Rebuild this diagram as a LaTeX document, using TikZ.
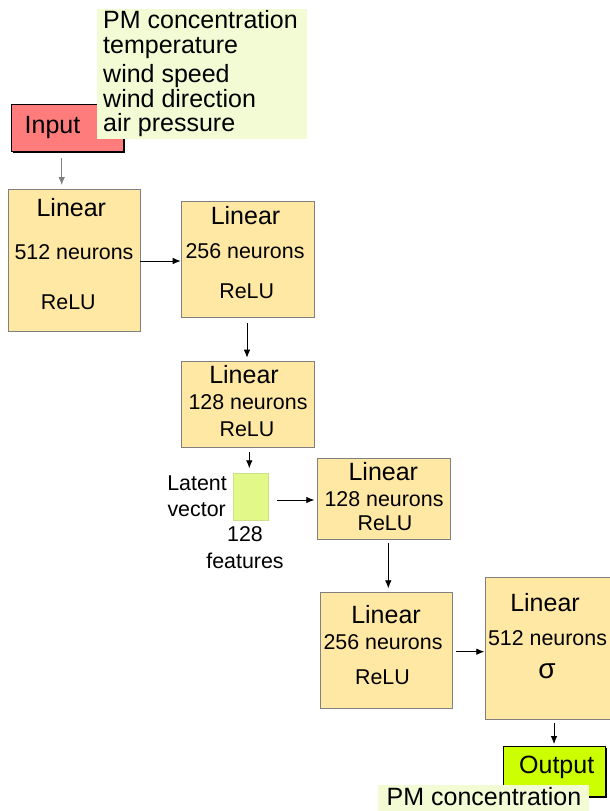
\documentclass[tikz,border=0pt]{standalone}
\usepackage{fontspec}
\setmainfont{Liberation Sans}
\usetikzlibrary{arrows.meta,shadows}

\definecolor{layerfill}{HTML}{FFE8A3}
\definecolor{layerline}{HTML}{808080}
\definecolor{featfill}{HTML}{F3FBD5}
\definecolor{infill}{HTML}{FF7C7C}
\definecolor{latfill}{HTML}{E2F98A}
\definecolor{outfill}{HTML}{CCFF00}

\tikzset{
  layer/.style={draw=layerline, fill=layerfill, line width=0.8pt, anchor=north west, inner sep=0pt, outer sep=0pt},
  iobox/.style={draw=black, line width=1.3pt, anchor=north west, inner sep=0pt, outer sep=0pt,
    drop shadow={shadow xshift=1.5pt, shadow yshift=-1.5pt, fill=black, opacity=1}},
  note/.style={fill=featfill, anchor=north west, inner sep=0pt, outer sep=0pt},
  big/.style={font=\fontsize{25}{29}\selectfont, inner sep=0pt},
  small/.style={font=\fontsize{21.4}{25}\selectfont, inner sep=0pt},
  arr/.style={line width=0.8pt, -{Latex[length=8pt,width=6.5pt]}},
}

\begin{document}
\begin{tikzpicture}[x=1pt,y=-1pt]
  \useasboundingbox (0,0) rectangle (610,811);

  % input and its features
  \node[iobox, fill=infill, minimum width=111.6pt, minimum height=47.4pt] (inbox) at (11.7,104.3) {};
  \node[big, anchor=base] (intxt) at (52.5,133.3) {Input};
  \node[note, minimum width=210.6pt, minimum height=130pt] (feats) at (96.7,9.3) {};
  \node[big, anchor=base west] (f1) at (103,28.3) {PM concentration};
  \node[big, anchor=base west] (f2) at (103,53.3) {temperature};
  \node[big, anchor=base west] (f3) at (103,82.7) {wind speed};
  \node[big, anchor=base west] (f4) at (103,107.7) {wind direction};
  \node[big, anchor=base west] (f5) at (103,131.7) {air pressure};

  % encoder
  \node[layer, minimum width=131.7pt, minimum height=142.7pt] (lin1) at (8.3,189) {};
  \node[big, anchor=base] (lin1a) at (71.3,216) {Linear};
  \node[small, anchor=base] (lin1b) at (74,259) {512 neurons};
  \node[small, anchor=base] (lin1c) at (68.3,309) {ReLU};

  \node[layer, minimum width=132.3pt, minimum height=115.6pt] (lin2) at (181.7,201.7) {};
  \node[big, anchor=base] (lin2a) at (245.5,224.3) {Linear};
  \node[small, anchor=base] (lin2b) at (245,258.3) {256 neurons};
  \node[small, anchor=base] (lin2c) at (246.7,298.3) {ReLU};

  \node[layer, minimum width=132.3pt, minimum height=85.6pt] (lin3) at (181.7,361.7) {};
  \node[big, anchor=base] (lin3a) at (244,383.3) {Linear};
  \node[small, anchor=base] (lin3b) at (248,409.3) {128 neurons};
  \node[small, anchor=base] (lin3c) at (247,436) {ReLU};

  % latent vector
  \node[draw=latfill!80!gray, fill=latfill, anchor=north west, inner sep=0pt, outer sep=0pt,
    minimum width=35pt, minimum height=46.7pt] (latent) at (233.3,473.3) {};
  \node[small, anchor=base east] (lat1) at (227,490.7) {Latent};
  \node[small, anchor=base east] (lat2) at (226,516.7) {vector};
  \node[small, anchor=base] (lat3) at (245,541.7) {128};
  \node[small, anchor=base] (lat4) at (245,568.3) {features};

  % decoder
  \node[layer, minimum width=132.7pt, minimum height=81pt] (lin4) at (317.3,458.3) {};
  \node[big, anchor=base] (lin4a) at (383.3,480) {Linear};
  \node[small, anchor=base] (lin4b) at (384,506) {128 neurons};
  \node[small, anchor=base] (lin4c) at (385,530) {ReLU};

  \node[layer, minimum width=132.7pt, minimum height=116pt] (lin5) at (320,592.3) {};
  \node[big, anchor=base] (lin5a) at (386,623.3) {Linear};
  \node[small, anchor=base] (lin5b) at (383,649.3) {256 neurons};
  \node[small, anchor=base] (lin5c) at (382.5,684.3) {ReLU};

  \node[layer, minimum width=130pt, minimum height=141.7pt] (lin6) at (485,577.3) {};
  \node[big, anchor=base] (lin6a) at (545,611.7) {Linear};
  \node[small, anchor=base] (lin6b) at (547.5,645) {512 neurons};
  \node[font=\fontsize{28}{32}\selectfont, inner sep=0pt, anchor=base] (lin6c) at (547,678.3) {σ};

  % output
  \node[iobox, fill=outfill, minimum width=102pt, minimum height=50pt] (outbox) at (503.3,746.7) {};
  \node[big, anchor=base] (outtxt) at (556.7,773.3) {Output};
  \node[note, minimum width=211pt, minimum height=27pt] (pmbox) at (378.3,785) {};
  \node[big, anchor=base] (pmtxt) at (484,805) {PM concentration};

  % connectors
  \draw[arr, draw=gray] ([xshift=50pt,yshift=-6pt]inbox.south west) -- ([xshift=53.4pt,yshift=4pt]lin1.north west);
  \draw[arr, shorten >=1pt] (lin1.east |- 0,261) -- (lin2.west |- 0,261);
  \draw[arr, shorten <=6pt, shorten >=4pt] (lin2.south -| 247,0) -- (lin3.north -| 247,0);
  \draw[arr, shorten <=5pt, shorten >=5pt] (lin3.south -| 249.3,0) -- (latent.north -| 249.3,0);
  \draw[arr, shorten <=9pt, shorten >=3pt] (latent.east |- 0,500) -- (lin4.west |- 0,500);
  \draw[arr, shorten <=3.5pt, shorten >=4pt] (lin4.south -| 388.3,0) -- (lin5.north -| 388.3,0);
  \draw[arr, shorten <=3.3pt, shorten >=0.7pt] (lin5.east |- 0,651.7) -- (lin6.west |- 0,651.7);
  \draw[arr, shorten <=3.7pt, shorten >=2.7pt] (lin6.south -| 554,0) -- (outbox.north -| 554,0);
\end{tikzpicture}
\end{document}
